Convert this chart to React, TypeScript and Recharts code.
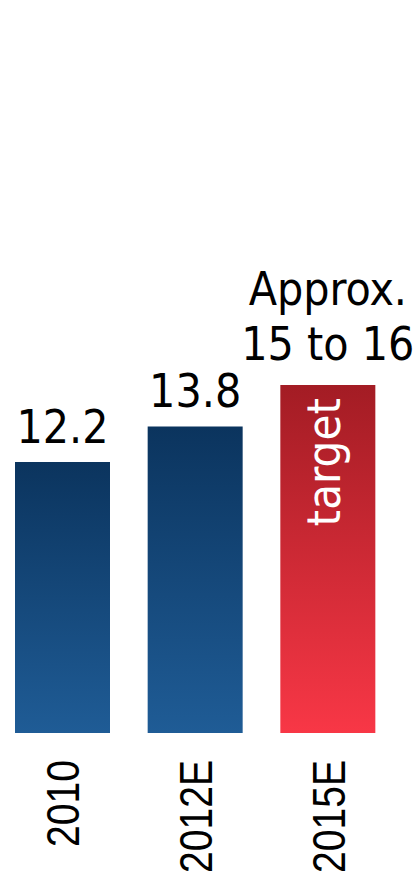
import { BarChart, Bar, XAxis, YAxis, Cell, LabelList } from 'recharts'

const YEARS = ['2010', '2012E', '2015E']
const VALUES = [12.2, 13.8, 15.67]
const VALUE_LABELS = [['12.2'], ['13.8'], ['Approx.', '15 to 16']]
const INNER_LABELS = ['', '', 'target']
const IS_TARGET = [false, false, true]

const data = YEARS.map((year, i) => ({ year, value: VALUES[i] }))

const VALUE_FONT = '"DejaVu Sans Condensed", "DejaVu Sans", sans-serif'
const TICK_FONT = '"Liberation Sans", Arial, sans-serif'

// year labels read bottom-to-top, a bit narrower than plain Arial
const YearTick = (props: any) => {
  const { x, payload } = props
  return (
    <text
      transform={`translate(${x + 17}, 760) rotate(-90) scale(0.85, 1)`}
      textAnchor="end"
      fontFamily={TICK_FONT}
      fontSize={46}
      fill="#000"
    >
      {payload.value}
    </text>
  )
}

const ValueLabel = (props: any) => {
  const { x, y, width, index } = props
  const lines = VALUE_LABELS[index]
  const cx = x + width / 2
  const gap = lines.length > 1 ? 25 : 19
  return (
    <text textAnchor="middle" fontFamily={VALUE_FONT} fontSize={46} fill="#000">
      {lines.map((line, i) => (
        <tspan key={i} x={cx} y={y - gap - (lines.length - 1 - i) * 55}>{line}</tspan>
      ))}
    </text>
  )
}

const InnerLabel = (props: any) => {
  const { x, y, width, index } = props
  const txt = INNER_LABELS[index]
  if (!txt) return null
  return (
    <text
      transform={`translate(${x + width / 2 + 12}, ${y + 13}) rotate(-90)`}
      textAnchor="end"
      fontFamily={VALUE_FONT}
      fontSize={47}
      fill="#fff"
    >
      {txt}
    </text>
  )
}

export default function App() {
  return (
    <div style={{ position: 'absolute', left: -4, top: 0, width: 420, height: 873, background: '#fff' }}>
      <BarChart width={420} height={873} data={data} margin={{ top: 0, right: 22, left: 0, bottom: 0 }}>
        <defs>
          <linearGradient id="blueGrad" x1="0" y1="0" x2="0" y2="1">
            <stop offset="0%" stopColor="#0b345e" />
            <stop offset="100%" stopColor="#1f5c96" />
          </linearGradient>
          <linearGradient id="redGrad" x1="0" y1="0" x2="0" y2="1">
            <stop offset="0%" stopColor="#a31c24" />
            <stop offset="100%" stopColor="#f83746" />
          </linearGradient>
        </defs>
        <XAxis dataKey="year" axisLine={false} tickLine={false} height={140} tick={<YearTick />} interval={0} />
        <YAxis hide domain={[0, 33]} />
        <Bar dataKey="value" barSize={95} isAnimationActive={false}>
          {data.map((d, i) => (
            <Cell key={d.year} fill={IS_TARGET[i] ? 'url(#redGrad)' : 'url(#blueGrad)'} />
          ))}
          <LabelList dataKey="value" content={<ValueLabel />} />
          <LabelList dataKey="value" content={<InnerLabel />} />
        </Bar>
      </BarChart>
    </div>
  )
}
